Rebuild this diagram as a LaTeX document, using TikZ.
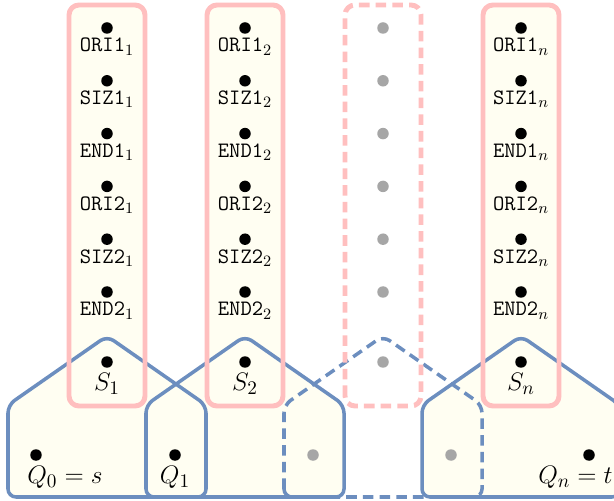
\documentclass[tikz,border=0pt]{standalone}
\usepackage{amsmath}
\newcommand{\fld}[2]{\texttt{#1}$_{#2}$}
\definecolor{boxpink}{HTML}{FFBFBF}
\definecolor{seqblue}{HTML}{6C8EBF}
\colorlet{paper}{yellow!5}

\begin{document}
\begin{tikzpicture}[x=0.02cm,y=0.02cm,
  pt/.style={circle,fill=black,inner sep=0pt,minimum size=0.23cm},
  ghost/.style={pt,fill=gray!70},
  field/.style={anchor=base,inner sep=0pt,font=\fontsize{12.5}{15}\selectfont},
  mlab/.style={anchor=base,inner sep=0pt,font=\fontsize{15}{18}\selectfont},
  rail/.style={draw=boxpink,line width=2.8pt,rounded corners=0.2cm},
  hull/.style={draw=seqblue,line width=2pt,rounded corners=0.16cm},
  gap/.style={dash pattern=on 6pt off 3.5pt}]
\useasboundingbox (0,0) rectangle (614,500);
% backgrounds
\foreach \c in {107,245,521}{
  \fill[paper,rounded corners=0.16cm] (\c-99,3) -- (\c-99,95) -- (\c,164) -- (\c+99,95) -- (\c+99,3) -- cycle;
  \fill[paper,rounded corners=0.2cm] (\c-38,94) rectangle (\c+38,495);
}
% outlines
\foreach \c/\s in {107/solid,245/solid,383/gap,521/solid}
  \draw[hull,\s] (\c-99,3) -- (\c-99,95) -- (\c,164) -- (\c+99,95) -- (\c+99,3) -- cycle;
\foreach \c/\s in {107/solid,245/solid,383/gap,521/solid}
  \draw[rail,\s] (\c-38,94) rectangle (\c+38,495);

% fields
\foreach \c/\k [count=\j] in {107/1,245/2,521/n}{
  \foreach \f [count=\i] in {ORI1,SIZ1,END1,ORI2,SIZ2,END2}{
    \node[pt] (d\j\i) at (\c,{472-52.8*(\i-1)}) {};
    \node[field,yshift=-0.48cm] (f\j\i) at (d\j\i) {\fld{\f}{\k}};
  }
  \node[pt] (s\j) at (\c,138) {};
  \node[mlab,yshift=-0.58cm] (sl\j) at (s\j) {$S_{\k}$};
}
\foreach \i in {1,...,6}
  \node[ghost] (g\i) at (383,{472-52.8*(\i-1)}) {};
\node[ghost] (gs) at (383,138) {};

% separators
\node[pt] (q0) at (36,45) {};
\node[pt] (q1) at (175,45) {};
\node[ghost] (q2) at (313,45) {};
\node[ghost] (q3) at (451,45) {};
\node[pt] (qn) at (589,45) {};
\node[mlab,anchor=base west,xshift=-0.18cm,yshift=-0.58cm] (ql0) at (q0) {$Q_0 = s$};
\node[mlab,yshift=-0.58cm] (ql1) at (q1) {$Q_1$};
\node[mlab,anchor=base east,xshift=0.48cm,yshift=-0.58cm] (qln) at (qn) {$Q_n = t$};
\end{tikzpicture}
\end{document}
